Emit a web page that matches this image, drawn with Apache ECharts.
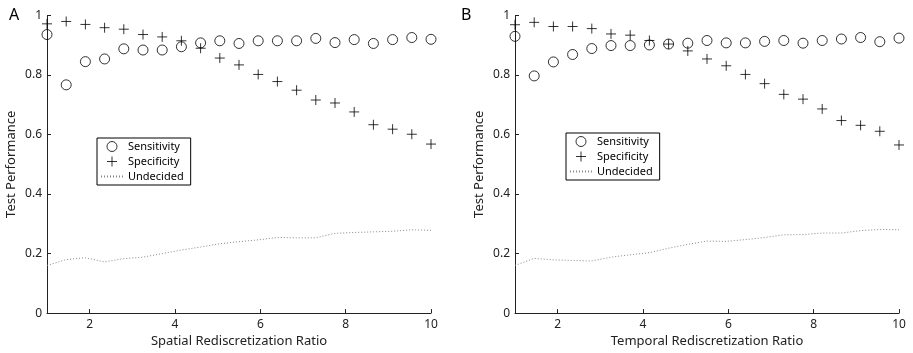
<!DOCTYPE html>
<html>
<head>
<meta charset="utf-8">
<script src="https://cdn.jsdelivr.net/npm/echarts@6/dist/echarts.min.js"></script>
<style>html,body{margin:0;padding:0;background:#fff;}#c{width:913px;height:353px;}</style>
</head>
<body>
<div id="c"></div>
<script>
// Rediscretization ratio (21 steps from 1 to 10)
var ratios = [1, 1.45, 1.9, 2.35, 2.8, 3.25, 3.7, 4.15, 4.6, 5.05, 5.5, 5.95, 6.4, 6.85, 7.3, 7.75, 8.2, 8.65, 9.1, 9.55, 10];
var xTicks = [2, 4, 6, 8, 10];

// Panel A: spatial
var sensA = [0.936, 0.767, 0.845, 0.854, 0.888, 0.884, 0.884, 0.895, 0.908, 0.915, 0.906, 0.915, 0.915, 0.915, 0.923, 0.909, 0.919, 0.906, 0.919, 0.926, 0.920];
var specA = [0.972, 0.980, 0.970, 0.959, 0.954, 0.936, 0.928, 0.915, 0.890, 0.857, 0.834, 0.802, 0.778, 0.749, 0.716, 0.706, 0.676, 0.633, 0.618, 0.601, 0.568];
var undA  = [0.160, 0.180, 0.186, 0.172, 0.183, 0.188, 0.200, 0.212, 0.222, 0.233, 0.240, 0.246, 0.254, 0.253, 0.253, 0.268, 0.271, 0.273, 0.275, 0.280, 0.278];

// Panel B: temporal
var sensB = [0.930, 0.797, 0.844, 0.869, 0.889, 0.899, 0.899, 0.901, 0.904, 0.907, 0.916, 0.908, 0.908, 0.913, 0.916, 0.907, 0.916, 0.921, 0.926, 0.912, 0.924];
var specB = [0.969, 0.977, 0.963, 0.963, 0.956, 0.938, 0.934, 0.916, 0.904, 0.881, 0.854, 0.831, 0.802, 0.771, 0.735, 0.719, 0.686, 0.647, 0.631, 0.611, 0.565];
var undB  = [0.160, 0.184, 0.179, 0.177, 0.175, 0.188, 0.196, 0.203, 0.218, 0.231, 0.242, 0.241, 0.247, 0.254, 0.263, 0.264, 0.269, 0.269, 0.277, 0.281, 0.280];

var seriesNames = ['Sensitivity', 'Specificity', 'Undecided'];
var xTitles = ['Spatial Rediscretization Ratio', 'Temporal Rediscretization Ratio'];
var panelLabels = ['A', 'B'];

function pairs(ys) { return ratios.map(function (x, i) { return [x, ys[i]]; }); }

var FONT = 'Noto Sans';
var AX = '#222';
var PLUS = 'path://M0,5L10,5M5,0L5,10';

function xAxis(idx) {
  return {
    type: 'value', gridIndex: idx, min: 1, max: 10,
    name: xTitles[idx], nameLocation: 'middle', nameGap: 11,
    nameTextStyle: { fontFamily: FONT, fontSize: 13, color: AX },
    axisLine: { show: true, lineStyle: { color: AX, width: 1 } },
    axisTick: { show: true, inside: true, length: 4, customValues: xTicks, lineStyle: { color: AX } },
    axisLabel: { show: true, margin: 5, customValues: xTicks, fontFamily: FONT, fontSize: 12, color: AX },
    splitLine: { show: false }
  };
}
function yAxis(idx) {
  return {
    type: 'value', gridIndex: idx, min: 0, max: 1, interval: 0.2,
    name: 'Test Performance', nameLocation: 'middle', nameGap: 29,
    nameTextStyle: { fontFamily: FONT, fontSize: 13, color: AX },
    axisLine: { show: true, lineStyle: { color: AX, width: 1 } },
    axisTick: { show: true, inside: true, length: 4, lineStyle: { color: AX } },
    axisLabel: { show: true, margin: 5, fontFamily: FONT, fontSize: 12, color: AX },
    splitLine: { show: false }
  };
}
function seriesFor(idx, sens, spec, und) {
  return [
    { name: seriesNames[0], type: 'scatter', xAxisIndex: idx, yAxisIndex: idx, data: pairs(sens),
      symbol: 'circle', symbolSize: 10, clip: false,
      itemStyle: { color: 'rgba(0,0,0,0)', borderColor: '#000', borderWidth: 1 }, z: 3 },
    { name: seriesNames[1], type: 'scatter', xAxisIndex: idx, yAxisIndex: idx, data: pairs(spec),
      symbol: PLUS, symbolSize: 10, symbolKeepAspect: true, clip: false,
      itemStyle: { color: 'rgba(0,0,0,0)', borderColor: '#000', borderWidth: 1 }, z: 3 },
    { name: seriesNames[2], type: 'line', xAxisIndex: idx, yAxisIndex: idx, data: pairs(und),
      symbol: 'none', showSymbol: false, smooth: false,
      lineStyle: { color: '#888', width: 1, type: [1, 2] }, z: 2 }
  ];
}
function legendFor(left, top) {
  return {
    orient: 'vertical', left: left, top: top,
    data: [
      { name: seriesNames[0], itemStyle: { color: 'rgba(0,0,0,0)', borderColor: '#000', borderWidth: 1 } },
      { name: seriesNames[1], itemStyle: { color: 'rgba(0,0,0,0)', borderColor: '#000', borderWidth: 1 } },
      { name: seriesNames[2], itemStyle: { opacity: 0, borderWidth: 0 } }
    ],
    selectedMode: false,
    itemWidth: 22, itemHeight: 10, itemGap: 4,
    padding: [3, 7, 3, 3],
    backgroundColor: '#fff', borderColor: '#000', borderWidth: 1,
    textStyle: { fontFamily: FONT, fontSize: 11, color: '#000' }
  };
}

var chart = echarts.init(document.getElementById('c'), null, { renderer: 'canvas' });
chart.setOption({
  animation: false,
  backgroundColor: '#fff',
  title: [
    { text: panelLabels[0], left: 4, top: 2, textStyle: { fontFamily: FONT, fontSize: 16, fontWeight: 'normal', color: '#000' } },
    { text: panelLabels[1], left: 456, top: 2, textStyle: { fontFamily: FONT, fontSize: 16, fontWeight: 'normal', color: '#000' } }
  ],
  grid: [
    { left: 47, top: 15.5, width: 384, height: 302.5 },
    { left: 515, top: 15.5, width: 384, height: 302.5 }
  ],
  xAxis: [xAxis(0), xAxis(1)],
  yAxis: [yAxis(0), yAxis(1)],
  legend: [legendFor(97, 138), legendFor(566, 133)],
  series: seriesFor(0, sensA, specA, undA).concat(seriesFor(1, sensB, specB, undB))
});
</script>
</body>
</html>
